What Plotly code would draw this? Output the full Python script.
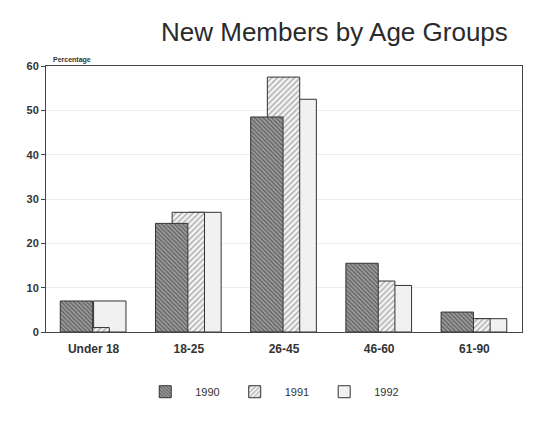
import plotly.graph_objects as go

categories = ["Under 18", "18-25", "26-45", "46-60", "61-90"]
years = ["1990", "1991", "1992"]
values_1990 = [7, 24.5, 48.5, 15.5, 4.5]
values_1991 = [1, 27, 57.5, 11.5, 3]
values_1992 = [7, 27, 52.5, 10.5, 3]
y_ticks = [0, 10, 20, 30, 40, 50, 60]

series = {"1990": values_1990, "1991": values_1991, "1992": values_1992}
styles = {
    "1990": dict(color="#7a7a7a", pattern=dict(shape="\\", fgcolor="#2a2a2a", bgcolor="#a0a0a0", size=3, solidity=0.5), offset=-0.35, rank=1),
    "1991": dict(color="#ffffff", pattern=dict(shape="/", fgcolor="#606060", bgcolor="#f4f4f4", size=4, solidity=0.35), offset=-0.175, rank=2),
    "1992": dict(color="#f1f1f1", pattern=None, offset=0.0, rank=3),
}

fig = go.Figure()
# draw back to front: 1992 behind, 1990 in front
for yr in ["1992", "1991", "1990"]:
    st = styles[yr]
    marker = dict(color=st["color"], line=dict(color="#333333", width=1))
    if st["pattern"]:
        marker["pattern"] = st["pattern"]
    fig.add_trace(go.Bar(
        x=categories, y=series[yr], name=yr,
        width=0.34, offset=st["offset"],
        marker=marker, legendrank=st["rank"],
    ))

fig.update_layout(
    width=544, height=424,
    barmode="overlay",
    paper_bgcolor="white", plot_bgcolor="white",
    margin=dict(l=38, r=30, t=58, b=100),
    font=dict(family="Liberation Sans, Arial, sans-serif", color="#333333"),
    title=dict(text="New Members by Age Groups", x=0.6, xanchor="center", y=0.965, yanchor="top",
               font=dict(size=26, color="#2a2a2a")),
    legend=dict(orientation="h", x=0.47, xanchor="center", y=-0.17, yanchor="top",
                font=dict(size=11, color="#333333"), itemwidth=50,
                traceorder="normal"),
    showlegend=True,
)
fig.update_xaxes(
    showline=True, linecolor="#444444", linewidth=1, mirror=True,
    ticks="", ticklabelstandoff=6, tickfont=dict(size=12, color="#333333", weight="bold"),
    range=[-0.5, 4.5],
)
fig.update_yaxes(
    showline=True, linecolor="#444444", linewidth=1, mirror=True,
    range=[0, 60], tickvals=y_ticks, ticks="outside", ticklen=4, tickcolor="#444444",
    tickfont=dict(size=11, color="#333333", weight="bold"),
    showgrid=True, gridcolor="#ececec", gridwidth=1, zeroline=False,
)
fig.add_annotation(text="Percentage", xref="paper", yref="paper", x=0.01, y=1.0,
                   xanchor="left", yanchor="bottom", showarrow=False,
                   font=dict(size=7, color="#333333", weight="bold"))

fig.write_html("out.html")
